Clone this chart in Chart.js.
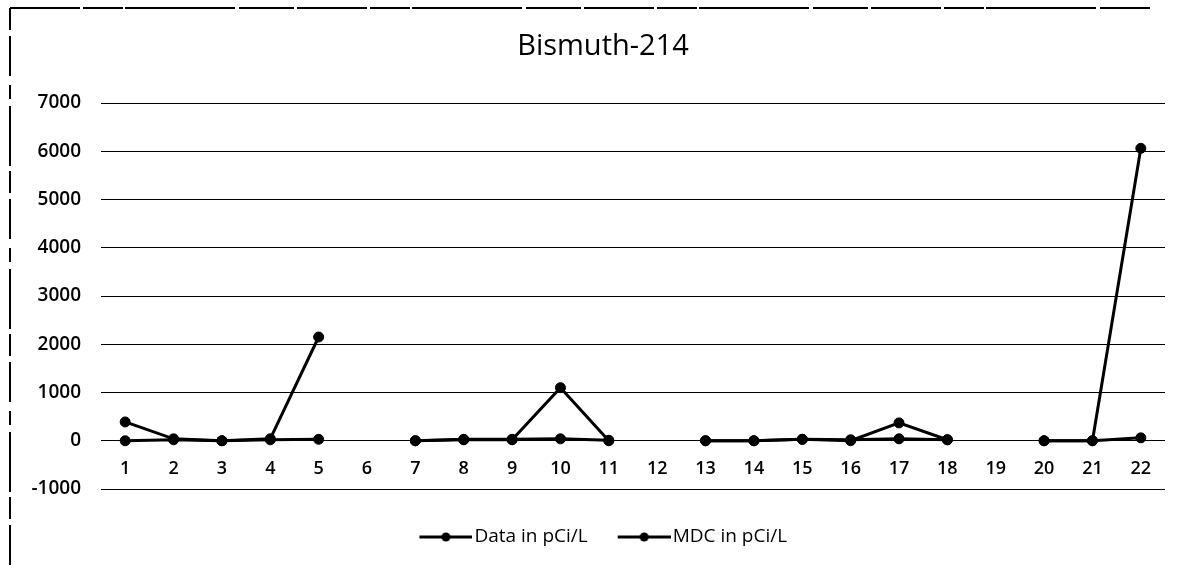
<!DOCTYPE html>
<html>
<head>
<meta charset="utf-8">
<script src="https://cdn.jsdelivr.net/npm/chart.js@4.4.1/dist/chart.umd.min.js"></script>
<style>
  html, body { margin: 0; padding: 0; background: #fff; }
  #wrap { width: 1187px; height: 572px; position: relative; }
</style>
</head>
<body>
<div id="wrap"><canvas id="c" width="1187" height="572"></canvas></div>
<script>
const chartTitle = 'Bismuth-214';
const categories = ['1','2','3','4','5','6','7','8','9','10','11','12','13','14','15','16','17','18','19','20','21','22'];
const dataValues = [390, 40, 0, 40, 2150, null, 0, 20, 20, 1100, 0, null, 0, 0, 30, 0, 370, 20, null, 0, 0, 6060];
const mdcValues  = [0, 20, 0, 20, 30, null, 0, 30, 30, 40, 10, null, 0, 0, 30, 20, 40, 20, null, 0, 0, 60];
const seriesNames = ['Data in pCi/L', 'MDC in pCi/L'];
const yMin = -1000, yMax = 7000, yStep = 1000;

function legendMarker() {
  const cv = document.createElement('canvas');
  cv.width = 61; cv.height = 12;
  const g = cv.getContext('2d');
  g.strokeStyle = '#000'; g.lineWidth = 3;
  g.beginPath(); g.moveTo(8, 6); g.lineTo(61, 6); g.stroke();
  g.fillStyle = '#000';
  g.beginPath(); g.arc(34.5, 6, 4.5, 0, Math.PI * 2); g.fill();
  return cv;
}
const marker = legendMarker();

const borderPlugin = {
  id: 'scanBorder',
  beforeDraw(chart) {
    const ctx = chart.ctx;
    ctx.save();
    ctx.strokeStyle = '#000';
    ctx.lineWidth = 2;
    ctx.setLineDash([70, 3, 40, 2, 110, 4, 55, 3]);
    ctx.beginPath(); ctx.moveTo(10, 8); ctx.lineTo(1150, 8); ctx.stroke();
    ctx.setLineDash([22, 6, 40, 9, 14, 7, 60, 5]);
    ctx.beginPath(); ctx.moveTo(10, 8); ctx.lineTo(10, 572); ctx.stroke();
    ctx.restore();
  }
};

new Chart(document.getElementById('c'), {
  type: 'line',
  data: {
    labels: categories,
    datasets: [
      {
        label: seriesNames[0],
        data: dataValues,
        borderColor: '#000', backgroundColor: '#000',
        borderWidth: 3, pointRadius: 5, pointBorderWidth: 1,
        pointBackgroundColor: '#000', pointBorderColor: '#000',
        pointStyle: 'circle', spanGaps: false, tension: 0
      },
      {
        label: seriesNames[1],
        data: mdcValues,
        borderColor: '#000', backgroundColor: '#000',
        borderWidth: 3, pointRadius: 5, pointBorderWidth: 1,
        pointBackgroundColor: '#000', pointBorderColor: '#000',
        pointStyle: 'circle', spanGaps: false, tension: 0
      }
    ]
  },
  options: {
    responsive: false,
    animation: false,
    devicePixelRatio: 1,
    layout: { padding: { left: 41, right: 22, top: 0, bottom: 15.5 } },
    plugins: {
      title: {
        display: true, text: chartTitle, color: '#000',
        font: { family: 'Open Sans', size: 29, weight: '400' },
        padding: { top: 29, bottom: 39.2 }
      },
      legend: {
        display: true, position: 'bottom',
        title: { display: true, text: '', font: { size: 5 }, padding: { top: 3, bottom: 0 } },
        labels: {
          color: '#000',
          font: { family: 'Open Sans', size: 19, weight: '400' },
          usePointStyle: true, pointStyleWidth: 46, padding: 29.5,
          generateLabels(chart) {
            return chart.data.datasets.map((ds, i) => ({
              text: ds.label, pointStyle: marker, fillStyle: '#000', strokeStyle: '#000',
              lineWidth: 0, hidden: false, datasetIndex: i, fontColor: '#000'
            }));
          }
        }
      },
      tooltip: { enabled: false }
    },
    scales: {
      x: {
        type: 'category',
        offset: true,
        position: { y: 0 },
        grid: { display: false, drawTicks: false },
        border: { display: false },
        ticks: {
          color: '#000', autoSkip: false, maxRotation: 0, padding: 17.7,
          font: { family: 'Open Sans', size: 18, weight: '600' }
        }
      },
      y: {
        min: yMin, max: yMax,
        afterFit(scale) {
          scale.width = 60;
          scale._computeLabelArea = () => undefined;
        },
        grid: { color: '#000', lineWidth: 1, drawTicks: false },
        border: { display: false },
        ticks: {
          stepSize: yStep, color: '#000', padding: 20,
          font: { family: 'Open Sans', size: 19, weight: '600' },
          callback: v => String(v)
        }
      }
    }
  },
  plugins: [borderPlugin]
});
</script>
</body>
</html>
